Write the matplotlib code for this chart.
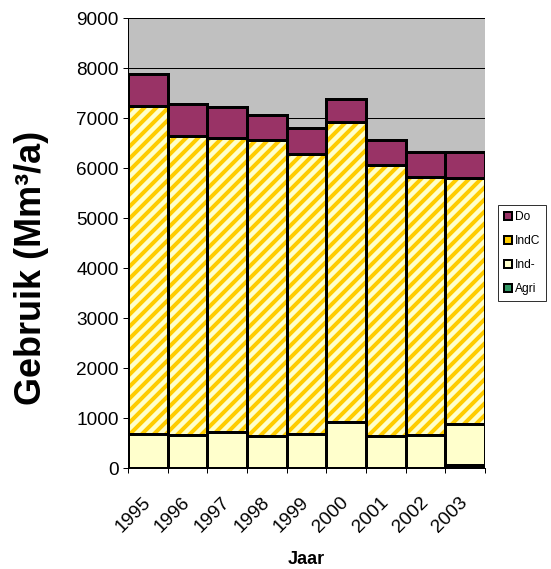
import numpy as np
import matplotlib.pyplot as plt
from matplotlib.patches import Patch
from matplotlib.transforms import ScaledTranslation

years = ["1995", "1996", "1997", "1998", "1999", "2000", "2001", "2002", "2003"]
agri = [0, 0, 0, 0, 0, 0, 0, 0, 60]
ind_min = [680, 670, 720, 650, 680, 920, 650, 660, 820]
ind_c = [6570, 5970, 5880, 5910, 5600, 6000, 5410, 5160, 4920]
do = [630, 640, 630, 500, 520, 460, 500, 500, 520]

plt.rcParams['font.family'] = ['Liberation Sans', 'DejaVu Sans']
plt.rcParams['hatch.linewidth'] = 4
plt.rcParams['hatch.color'] = '#FFCC00'

fig = plt.figure(figsize=(551 / 72, 569 / 72), dpi=72)
ax = fig.add_axes([0.232, 0.1775, 0.648, 0.7905])
ax.set_facecolor('#C0C0C0')

x = np.arange(len(years))
bottom = np.zeros(len(years))
ew = 3
ax.bar(x, agri, width=1.0, bottom=bottom, color='#339966', edgecolor='black', linewidth=ew, zorder=3)
bottom += agri
ax.bar(x, ind_min, width=1.0, bottom=bottom, color='#FFFFCC', edgecolor='black', linewidth=ew, zorder=3)
bottom += ind_min
ax.bar(x, ind_c, width=1.0, bottom=bottom, color='#FFFFCC', hatch='//', edgecolor='#FFCC00', linewidth=0, zorder=3)
ax.bar(x, ind_c, width=1.0, bottom=bottom, color='none', edgecolor='black', linewidth=ew, zorder=4)
bottom += ind_c
ax.bar(x, do, width=1.0, bottom=bottom, color='#993366', edgecolor='black', linewidth=ew, zorder=3)

ax.set_xlim(-0.5, len(years) - 0.5)
ax.set_ylim(0, 9000)
ax.set_yticks(np.arange(0, 9001, 1000))
ax.yaxis.grid(True, color='black', linewidth=1, zorder=0)
ax.set_axisbelow(True)

ax.set_xticks(x)
ax.set_xticklabels(years, rotation=45, ha='right', va='top', rotation_mode='anchor', fontsize=19)
ax.tick_params(axis='x', length=0, pad=26)
shift = ScaledTranslation(-6 / 72, 0, fig.dpi_scale_trans)
for lbl in ax.get_xticklabels():
    lbl.set_transform(lbl.get_transform() + shift)
ax.set_xticks(np.arange(-0.5, len(years)), minor=True)
ax.tick_params(axis='x', which='minor', length=5, width=1)
ax.tick_params(axis='y', labelsize=19, length=5, width=1, pad=4)

for s in ['top', 'right']:
    ax.spines[s].set_visible(False)
ax.spines['left'].set_linewidth(1)
ax.spines['bottom'].set_linewidth(1)

ax.set_ylabel("Gebruik (Mm³/a)", fontsize=36, fontweight='bold')
ax.yaxis.label.set_va('center')
ax.yaxis.set_label_coords(-0.27, 0.444)
ax.set_xlabel("Jaar", fontsize=18, fontweight='bold')
ax.xaxis.label.set_va('center')
ax.xaxis.set_label_coords(0.5, -0.204)

handles = [
    Patch(facecolor='#993366', edgecolor='black', linewidth=2, label='Do'),
    Patch(facecolor='#FFCC00', edgecolor='black', linewidth=2, label='IndC'),
    Patch(facecolor='#FFFFCC', edgecolor='black', linewidth=2, label='Ind-'),
    Patch(facecolor='#339966', edgecolor='black', linewidth=2, label='Agri'),
]
leg = fig.legend(handles=handles, loc='upper left', bbox_to_anchor=(498 / 551, 1 - 205 / 569),
                 fontsize=12, frameon=True, fancybox=False, edgecolor='black',
                 handlelength=0.7, handleheight=0.7, handletextpad=0.2,
                 labelspacing=1.0, borderpad=0.5, borderaxespad=0)
leg.get_frame().set_linewidth(1)

fig.savefig("out.png", dpi=72)
